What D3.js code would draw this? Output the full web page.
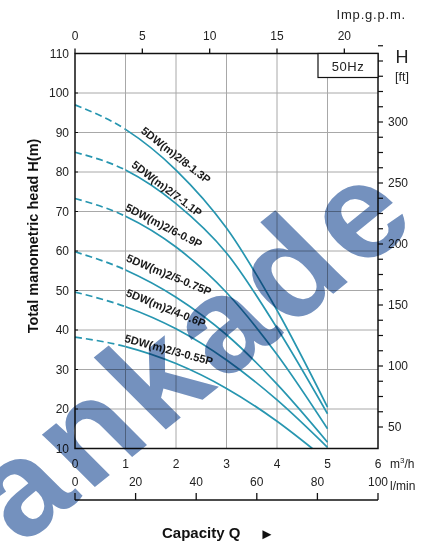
<!DOCTYPE html>
<html><head><meta charset="utf-8">
<script src="https://cdn.jsdelivr.net/npm/d3@7"></script>
<style>
body{margin:0;background:#fff;}
svg{display:block;font-family:Arial,"Liberation Sans",Helvetica,sans-serif;}
</style></head>
<body><svg id="c" width="423" height="543"></svg>
<script>
// ---- data ----
const qPts = [0, 1, 2, 3, 4, 5];
const q3Pts = [0, 1, 2, 3, 4, 4.7];
const models = ["5DW(m)2/8-1.3P","5DW(m)2/7-1.1P","5DW(m)2/6-0.9P","5DW(m)2/5-0.75P","5DW(m)2/4-0.6P","5DW(m)2/3-0.55P"];
const h8 = [97, 90.8, 80.5, 65.8, 45, 20.5];
const h7 = [85, 80.5, 72, 59.5, 40.5, 18.8];
const h6 = [73.3, 68.8, 61, 49.5, 33.8, 15];
const h5 = [59.8, 55.2, 48.3, 38.8, 26.3, 11.6];
const h4 = [49.6, 45.9, 40.3, 32.4, 22.3, 10.3];
const h3 = [38.2, 35.8, 31.5, 25.2, 16.9, 10];
const yTicksM = [10,20,30,40,50,60,70,80,90,100,110];
const xTicksQ = [0,1,2,3,4,5,6];
const xTicksLmin = [0,20,40,60,80,100];
const xTicksGpm = [0,5,10,15,20];
const yTicksFt = [50,100,150,200,250,300];

const series = [
  {name: models[0], q: qPts, h: h8, lq: 2.0, lh: 84.3, ang: 38},
  {name: models[1], q: qPts, h: h7, lq: 1.82, lh: 75.8, ang: 37},
  {name: models[2], q: qPts, h: h6, lq: 1.76, lh: 66.4, ang: 27},
  {name: models[3], q: qPts, h: h5, lq: 1.86, lh: 54.0, ang: 22.5},
  {name: models[4], q: qPts, h: h4, lq: 1.80, lh: 45.6, ang: 22},
  {name: models[5], q: q3Pts, h: h3, lq: 1.86, lh: 35.0, ang: 15}
];

// ---- layout ----
const L = 75, R = 378, T = 53.5, B = 448.5;
const svg = d3.select("#c");
const x = d3.scaleLinear().domain([0,6]).range([L,R]);
const y = d3.scaleLinear().domain([10,110]).range([B,T]);
const xL = d3.scaleLinear().domain([0,100]).range([L,R]);
const xG = d3.scaleLinear().domain([0,22.5]).range([L,R]);
const yF = d3.scaleLinear().domain([50,300]).range([427,122]);
const curveCol = "#2796b0";

// grid
const g = svg.append("g");
g.selectAll("line.v").data([1,2,3,4,5]).join("line")
  .attr("x1",d=>x(d)).attr("x2",d=>x(d)).attr("y1",T).attr("y2",B)
  .attr("stroke","#a8a8a8").attr("stroke-width",1);
g.selectAll("line.h").data([20,30,40,50,60,70,80,90,100]).join("line")
  .attr("y1",d=>y(d)).attr("y2",d=>y(d)).attr("x1",L).attr("x2",R)
  .attr("stroke","#a8a8a8").attr("stroke-width",1);

// curves
const defs = svg.append("defs");
defs.append("clipPath").attr("id","cd").append("rect")
  .attr("x",0).attr("y",0).attr("width",x(1)).attr("height",543);
defs.append("clipPath").attr("id","cs").append("rect")
  .attr("x",x(1)).attr("y",0).attr("width",423).attr("height",543);
const line = d3.line().x(d=>x(d[0])).y(d=>y(d[1])).curve(d3.curveMonotoneX);
series.forEach(s=>{
  const pts = s.q.map((q,i)=>[q,s.h[i]]);
  svg.append("path").attr("d",line(pts)).attr("fill","none")
    .attr("stroke",curveCol).attr("stroke-width",1.7)
    .attr("stroke-dasharray","7,4").attr("clip-path","url(#cd)");
  svg.append("path").attr("d",line(pts)).attr("fill","none")
    .attr("stroke",curveCol).attr("stroke-width",1.7)
    .attr("clip-path","url(#cs)");
  svg.append("text").text(s.name)
    .attr("transform",`translate(${x(s.lq)},${y(s.lh)}) rotate(${s.ang})`)
    .attr("text-anchor","middle").attr("dominant-baseline","central")
    .attr("font-size",11.2).attr("font-weight","bold").attr("fill","#1a1a1a");
});

// frame
svg.append("rect").attr("x",L).attr("y",T).attr("width",R-L).attr("height",B-T)
  .attr("fill","none").attr("stroke","#111").attr("stroke-width",1.5);

// left axis
const ax = svg.append("g").attr("font-size",12).attr("fill","#222");
ax.selectAll("text.ym").data(yTicksM).join("text")
  .attr("x",L-6).attr("y",d=>y(d)).attr("text-anchor","end").attr("dominant-baseline","central")
  .text(d=>d);
ax.selectAll("line.ym").data(yTicksM).join("line")
  .attr("x1",L).attr("x2",L+3).attr("y1",d=>y(d)).attr("y2",d=>y(d)).attr("stroke","#111");

// bottom m3/h labels
ax.selectAll("text.xq").data(xTicksQ).join("text")
  .attr("x",d=>x(d)).attr("y",464).attr("text-anchor","middle").attr("dominant-baseline","central")
  .text(d=>d);
ax.append("text").attr("x",390).attr("y",464).attr("dominant-baseline","central").html("m<tspan font-size='8' dy='-4'>3</tspan><tspan dy='4'>/h</tspan>");

// l/min axis
ax.append("line").attr("x1",L).attr("x2",R).attr("y1",500).attr("y2",500).attr("stroke","#111").attr("stroke-width",1.3);
ax.selectAll("line.xl").data(xTicksLmin).join("line")
  .attr("x1",d=>xL(d)).attr("x2",d=>xL(d)).attr("y1",500).attr("y2",493).attr("stroke","#111").attr("stroke-width",1.3);
ax.selectAll("text.xl").data(xTicksLmin).join("text")
  .attr("x",d=>xL(d)).attr("y",482).attr("text-anchor","middle").attr("dominant-baseline","central")
  .text(d=>d);
ax.append("text").attr("x",390).attr("y",486).attr("dominant-baseline","central").text("l/min");

// top gpm axis
ax.selectAll("line.g").data(xTicksGpm).join("line")
  .attr("x1",d=>xG(d)).attr("x2",d=>xG(d)).attr("y1",T).attr("y2",T-5).attr("stroke","#111").attr("stroke-width",1.3);
ax.selectAll("text.g").data(xTicksGpm).join("text")
  .attr("x",d=>xG(d)).attr("y",36).attr("text-anchor","middle").attr("dominant-baseline","central")
  .text(d=>d);
ax.append("text").attr("x",406).attr("y",14).attr("text-anchor","end").attr("dominant-baseline","central")
  .attr("font-size",13).attr("letter-spacing",0.8).text("Imp.g.p.m.");

// right ft axis
const ftMinor = d3.range(50, 362.6, 12.5);
ax.selectAll("line.f").data(ftMinor).join("line")
  .attr("x1",R).attr("x2",R+5).attr("y1",d=>yF(d)).attr("y2",d=>yF(d)).attr("stroke","#111").attr("stroke-width",1.2);
ax.selectAll("text.f").data(yTicksFt).join("text")
  .attr("x",R+10).attr("y",d=>yF(d)).attr("dominant-baseline","central")
  .text(d=>d);
ax.append("text").attr("x",402).attr("y",57).attr("text-anchor","middle").attr("dominant-baseline","central")
  .attr("font-size",18).text("H");
ax.append("text").attr("x",402).attr("y",77).attr("text-anchor","middle").attr("dominant-baseline","central")
  .attr("font-size",12.5).text("[ft]");

// 50Hz box
svg.append("rect").attr("x",318).attr("y",T).attr("width",R-318).attr("height",24)
  .attr("fill","#fff").attr("stroke","#111").attr("stroke-width",1.2);
svg.append("text").attr("x",348).attr("y",T+12.5).attr("text-anchor","middle").attr("dominant-baseline","central")
  .attr("font-size",13).attr("letter-spacing",0.6).attr("fill","#222").text("50Hz");

// titles
svg.append("text").attr("transform",`translate(33,236) rotate(-90)`)
  .attr("text-anchor","middle").attr("dominant-baseline","central")
  .attr("font-size",14.5).attr("font-weight","bold").attr("fill","#111").text("Total manometric head H(m)");
svg.append("text").attr("x",162).attr("y",532).attr("dominant-baseline","central")
  .attr("font-size",15).attr("font-weight","bold").attr("fill","#111").text("Capacity Q");
svg.append("text").attr("x",267).attr("y",533).attr("text-anchor","middle").attr("dominant-baseline","central")
  .attr("font-size",15).attr("fill","#111").text("\u25BA");

// watermark
svg.append("text").attr("transform","translate(22,546) rotate(-39) skewX(6)")
  .attr("font-size",140).attr("font-weight","bold").attr("letter-spacing",6).attr("fill","#7491be")
  .style("mix-blend-mode","multiply")
  .text("ankade");
</script></body></html>
